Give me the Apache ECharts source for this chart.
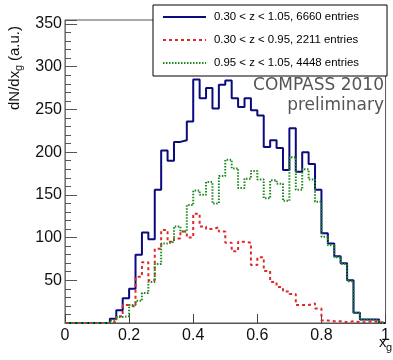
<!DOCTYPE html>
<html>
<head>
<meta charset="utf-8">
<script src="https://cdn.jsdelivr.net/npm/echarts@6/dist/echarts.min.js"></script>
<style>
  html, body { margin: 0; padding: 0; background: #fff; }
  #chart { width: 393px; height: 360px; }
</style>
</head>
<body>
<div id="chart"></div>
<script>
// bin left edges (x_g), plus the closing right edge 1.0
const binEdges = [0, 0.02, 0.04, 0.06, 0.08, 0.1, 0.12, 0.14, 0.16, 0.18,
  0.2, 0.22, 0.24, 0.26, 0.28, 0.3, 0.32, 0.34, 0.36, 0.38,
  0.4, 0.42, 0.44, 0.46, 0.48, 0.5, 0.52, 0.54, 0.56, 0.58,
  0.6, 0.62, 0.64, 0.66, 0.68, 0.7, 0.72, 0.74, 0.76, 0.78,
  0.8, 0.82, 0.84, 0.86, 0.88, 0.9, 0.92, 0.94, 0.96, 0.98, 1.0];

// 0.30 < z < 1.05
const allZ = [0, 0, 0, 0, 0, 0, 0, 5, 15, 29,
  40, 80, 106, 98, 156, 202, 190, 212, 214, 236,
  285, 263, 275, 251, 279, 284, 263, 253, 263, 249,
  243, 206, 214, 205, 179, 228, 177, 200, 186, 156,
  105, 93, 78, 70, 50, 12, 4, 4, 4, 0];

// 0.30 < z < 0.95
const lowZ = [0, 0, 0, 0, 0, 0, 0, 1, 8, 21,
  19, 54, 71, 50, 87, 109, 95, 99, 107, 100,
  128, 113, 110, 112, 107, 94, 84, 95, 94, 68,
  77, 61, 48, 42, 37, 34, 21, 21, 23, 17,
  3, 2, 2, 1, 2, 1, 1, 2, 1, 1];

// 0.95 < z < 1.05
const highZ = [0, 0, 0, 0, 0, 0, 0, 3, 7, 8,
  21, 26, 35, 48, 69, 93, 95, 113, 107, 138,
  155, 150, 165, 140, 172, 191, 181, 158, 169, 178,
  168, 146, 167, 163, 143, 194, 156, 180, 168, 142,
  101, 91, 77, 69, 49, 12, 4, 4, 3, 0];

const seriesNames = [
  '0.30 < z < 1.05, 6660 entries',
  '0.30 < z < 0.95, 2211 entries',
  '0.95 < z < 1.05, 4448 entries'
];

// histogram -> step points, last point closes the final bin
function toSteps(vals) {
  const pts = vals.map((v, i) => [binEdges[i], v]);
  pts.push([binEdges[vals.length], vals[vals.length - 1]]);
  return pts;
}

const chart = echarts.init(document.getElementById('chart'), null, { renderer: 'canvas' });
const FONT = '"Liberation Sans", Arial, Helvetica, sans-serif';

const yMax = 354.7;

const option = {
  animation: false,
  grid: { left: 65, right: 3, top: 20, bottom: 37, show: true, borderColor: '#555', borderWidth: 1 },
  legend: {
    orient: 'vertical',
    left: 153,
    top: 5,
    data: seriesNames,
    backgroundColor: '#fff',
    borderColor: '#000',
    borderWidth: 1,
    borderRadius: 0,
    padding: [5, 28, 6, 9],
    itemGap: 9,
    itemWidth: 43,
    itemHeight: 14,
    // hide the round marker, keep the line sample
    itemStyle: { color: 'rgba(0,0,0,0)', borderWidth: 0, opacity: 0 },
    textStyle: { fontSize: 11.4, color: '#000', fontFamily: FONT, padding: [0, 0, 0, 3], lineHeight: 14 }
  },
  xAxis: {
    type: 'value',
    min: 0,
    max: 1,
    interval: 0.2,
    axisLine: { show: true, onZero: false, lineStyle: { color: '#555', width: 1 } },
    axisTick: { show: true, inside: true, length: 9, lineStyle: { color: '#444' } },
    axisLabel: {
      fontSize: 16, color: '#111', fontFamily: FONT, margin: 5,
      formatter: v => (v === 0 ? '0' : v === 1 ? '1' : v.toFixed(1))
    },
    splitLine: { show: false }
  },
  yAxis: [
    {
      type: 'value',
      min: 0,
      max: yMax,
      interval: 50,
      position: 'left',
      axisLine: { show: true, lineStyle: { color: '#777', width: 1 } },
      axisTick: { show: true, inside: true, length: 12, lineStyle: { color: '#555' } },
      axisLabel: {
        fontSize: 16, color: '#111', fontFamily: FONT, margin: 3,
        formatter: v => (v > 0 && v % 50 === 0 ? String(v) : '')
      },
      splitLine: { show: false }
    },
    {
      type: 'value',
      min: 0,
      max: yMax,
      interval: 10,
      position: 'left',
      offset: 0,
      axisLine: { show: false },
      axisTick: { show: true, inside: true, length: 6, lineStyle: { color: '#555' } },
      axisLabel: { show: false },
      splitLine: { show: false }
    }
  ],
  series: [
    {
      name: seriesNames[0],
      type: 'line',
      step: 'end',
      symbol: 'none',
      data: toSteps(allZ),
      lineStyle: { color: '#0b0b80', width: 2 },
      itemStyle: { color: '#0b0b80' },
      z: 2
    },
    {
      name: seriesNames[1],
      type: 'line',
      step: 'end',
      symbol: 'none',
      data: toSteps(lowZ),
      lineStyle: { color: '#dd2a2a', width: 2, type: [3, 3] },
      itemStyle: { color: '#dd2a2a' },
      z: 3
    },
    {
      name: seriesNames[2],
      type: 'line',
      step: 'end',
      symbol: 'none',
      data: toSteps(highZ),
      lineStyle: { color: '#1f8a1f', width: 2, type: [1.5, 1.5] },
      itemStyle: { color: '#1f8a1f' },
      z: 4
    }
  ],
  graphic: [
    {
      type: 'text',
      right: 9,
      top: 77,
      style: { text: 'COMPASS 2010', font: '17px "DejaVu Sans", sans-serif', fill: '#555', textAlign: 'right' }
    },
    {
      type: 'text',
      right: 9,
      top: 97,
      style: { text: 'preliminary', font: '17px "DejaVu Sans", sans-serif', fill: '#555', textAlign: 'right' }
    },
    // y axis title, rotated
    {
      type: 'group',
      x: 15,
      y: 110,
      rotation: Math.PI / 2,
      children: [
        { type: 'text', x: 0, y: 0, style: { text: 'dN/dx', font: '15px ' + FONT, fill: '#111', textVerticalAlign: 'middle' } },
        { type: 'text', x: 39, y: 4, style: { text: 'g', font: '11px ' + FONT, fill: '#111', textVerticalAlign: 'middle' } },
        { type: 'text', x: 49, y: 0, style: { text: '(a.u.)', font: '15px ' + FONT, fill: '#111', textVerticalAlign: 'middle' } }
      ]
    },
    // x axis title
    { type: 'text', x: 379, y: 343, style: { text: 'x', font: '15px ' + FONT, fill: '#111', textVerticalAlign: 'middle' } },
    { type: 'text', x: 386, y: 348, style: { text: 'g', font: '11px ' + FONT, fill: '#111', textVerticalAlign: 'middle' } }
  ]
};

chart.setOption(option);
</script>
</body>
</html>
